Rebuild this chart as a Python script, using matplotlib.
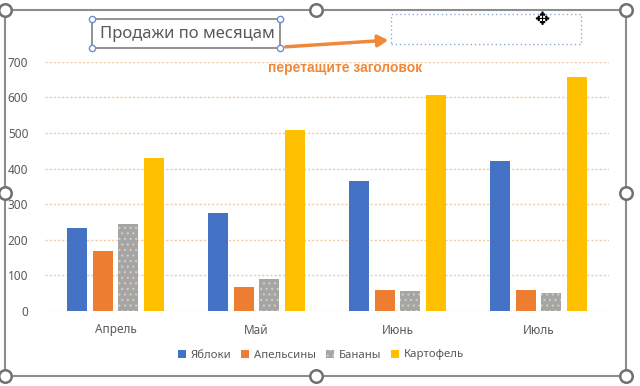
import numpy as np
import matplotlib
matplotlib.use("Agg")
import matplotlib.pyplot as plt
from matplotlib.patches import Rectangle, FancyArrowPatch

plt.rcParams['font.family'] = ['Noto Sans', 'DejaVu Sans']
plt.rcParams['hatch.linewidth'] = 0.8

# data
months = ['Апрель', 'Май', 'Июнь', 'Июль']
series_names = ['Яблоки', 'Апельсины', 'Бананы', 'Картофель']
apples = [233, 276, 365, 421]
oranges = [168, 66, 60, 60]
bananas = [244, 89, 57, 51]
potatoes = [431, 508, 607, 658]
yticks = [0, 100, 200, 300, 400, 500, 600, 700]

colors = ['#4472C4', '#ED7D31', '#A5A5A5', '#FFC000']
gray_txt = '#595959'

W, H = 640, 386
fig = plt.figure(figsize=(6.4, 3.86), dpi=100)


# pixel -> figure fraction
def px(x, y):
    return x / W, 1 - y / H


left, top = px(45, 61.7)
right, bottom = px(609, 311)
ax = fig.add_axes([left, bottom, right - left, top - bottom])

x = np.arange(len(months))
w = 1 / 7
for i, (vals, name) in enumerate(zip([apples, oranges, bananas, potatoes], series_names)):
    offs = (i - 1.5) * 1.27 * w
    if name == 'Бананы':
        ax.bar(x + offs, vals, w, color=colors[i], label=name, zorder=3,
               hatch='...', edgecolor='#d8cdb8', linewidth=0)
    else:
        ax.bar(x + offs, vals, w, color=colors[i], label=name, zorder=3, linewidth=0)

ax.set_xlim(-0.5, 3.5)
ax.set_ylim(0, 700)
ax.set_yticks(yticks)
ax.set_xticks(x)
ax.set_xticklabels(months)
ax.tick_params(length=0, colors=gray_txt, labelsize=8.5)
ax.tick_params(axis='x', pad=9)
ax.tick_params(axis='y', pad=12)
for s in ax.spines.values():
    s.set_visible(False)
ax.grid(axis='y', color='#f2c9a0', linestyle=(0, (1.5, 1.5)), linewidth=1, zorder=0)

leg = fig.legend(loc='center', bbox_to_anchor=px(321, 355), ncol=4, frameon=False,
                 handlelength=0.7, handleheight=0.7, handletextpad=0.4,
                 columnspacing=0.9, fontsize=8.2, labelcolor=gray_txt)

# chart frame with handles
x0, y0 = px(5, 10)
x1, y1 = px(626, 376)
fig.patches.append(Rectangle((x0, y1), x1 - x0, y0 - y1, transform=fig.transFigure,
                             fill=False, edgecolor='#8c8c8c', linewidth=1.5))
for hx, hy in [(5, 10), (316, 10), (626, 10), (5, 193), (626, 193), (5, 376), (316, 376), (626, 376)]:
    fig.add_artist(plt.Line2D([hx / W], [1 - hy / H], marker='o', markersize=9,
                              markerfacecolor='white', markeredgecolor='#707070',
                              markeredgewidth=1.8, transform=fig.transFigure))

# title box
tx0, ty0 = px(92, 19)
tx1, ty1 = px(280, 48)
fig.patches.append(Rectangle((tx0, ty1), tx1 - tx0, ty0 - ty1, transform=fig.transFigure,
                             fill=False, edgecolor='#7f7f7f', linewidth=1.2))
for hx, hy in [(92, 19), (280, 19), (92, 48), (280, 48)]:
    fig.add_artist(plt.Line2D([hx / W], [1 - hy / H], marker='o', markersize=4.5,
                              markerfacecolor='white', markeredgecolor='#6a8fd0',
                              markeredgewidth=1, transform=fig.transFigure))
fig.text(*px(187, 34), 'Продажи по месяцам', ha='center', va='center',
         fontsize=12, color=gray_txt)

# dotted target box
dx0, dy0 = px(391, 14)
dx1, dy1 = px(581, 44)
fig.patches.append(Rectangle((dx0, dy1), dx1 - dx0, dy0 - dy1, transform=fig.transFigure,
                             fill=False, edgecolor='#8fa8d8', linewidth=1,
                             linestyle=(0, (1, 2))))
fig.text(*px(542, 20), '✥', ha='center', va='center', fontsize=13, color='black',
         family=['DejaVu Sans'])

# arrow
fig.add_artist(FancyArrowPatch(px(283, 47), px(391, 40), transform=fig.transFigure,
                               arrowstyle='-|>,head_length=6,head_width=3.5',
                               color='#F0883A', linewidth=2.5))
fig.text(*px(345, 68), 'перетащите заголовок', ha='center', va='center',
         fontsize=10, fontweight='bold', color='#F0883A', family=['Liberation Sans'])

fig.savefig('out.png', dpi=100)
